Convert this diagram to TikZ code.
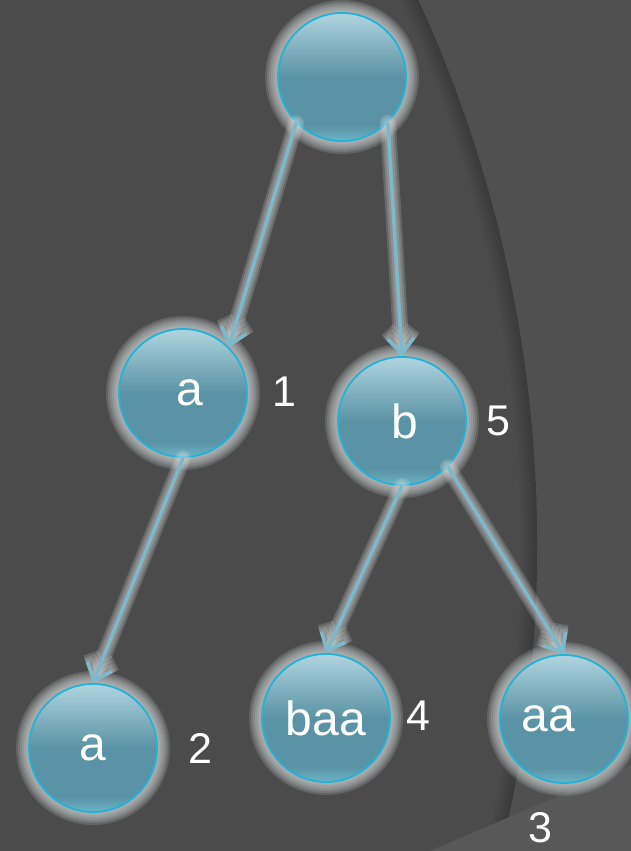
\documentclass[tikz,border=0pt]{standalone}
\usepackage{fontspec}
\setmainfont{Liberation Sans}
\usepackage{xcolor}
\usepackage{tikz}
\usetikzlibrary{arrows.meta,positioning}
\definecolor{slidebg}{RGB}{75,75,75}
\definecolor{slideright}{RGB}{80,80,80}
\definecolor{slidewedge}{RGB}{88,88,88}
\definecolor{nodetop}{RGB}{176,212,224}
\definecolor{nodemid}{RGB}{90,147,165}
\definecolor{nodebot}{RGB}{108,180,200}
\definecolor{nodeborder}{RGB}{34,179,214}
\definecolor{glowgray}{RGB}{212,220,222}
\definecolor{edgeblue}{RGB}{124,185,203}

% light cap on top, flat body, slightly lighter rim at the bottom
\pgfdeclareverticalshading{nodeshade}{100bp}{color(0bp)=(nodebot); color(25bp)=(nodebot); color(31bp)=(nodemid); color(50bp)=(nodemid); color(75bp)=(nodetop); color(100bp)=(nodetop)}

\tikzset{
  halo/.style={preaction={draw=glowgray, line width=#1, draw opacity=0.17, line cap=round}},
  treenode/.style={circle, minimum size=128pt, inner sep=0pt,
    draw=nodeborder, line width=1.8pt, shading=nodeshade, text=white,
    font=\fontsize{48pt}{56pt}\selectfont,
    halo=26pt, halo=22pt, halo=18pt, halo=14pt, halo=10pt, halo=6pt},
  edgehalo/.style={preaction={draw=glowgray, line width=#1, draw opacity=0.2, line cap=round,
      -{Straight Barb[length=15pt,width=26pt]}}},
  treeedge/.style={draw=edgeblue, line width=3.5pt,
    -{Straight Barb[length=15pt,width=26pt]},
    edgehalo=16pt, edgehalo=12pt, edgehalo=8pt},
  numlabel/.style={text=white, inner sep=0pt, font=\fontsize{43pt}{50pt}\selectfont}
}

\begin{document}
\begin{tikzpicture}[x=1pt, y=-1pt]
  \useasboundingbox (0,0) rectangle (631,851);

  % slide background with the big arc
  \fill[slidebg] (0,0) rectangle (631,851);
  \begin{scope}
    \clip (0,0) rectangle (631,851);
    \fill[slideright, even odd rule] (0,0) rectangle (631,851) (-770,545) circle (1307pt);
    \clip (-770,545) circle (1307pt);
    \foreach \w in {32,28,...,4}
      \draw[black, draw opacity=0.025, line width=\w pt] (-770,545) circle (1307pt);
  \end{scope}
  \fill[slidewedge] (430,851) -- (631,765) -- (631,851) -- cycle;

  % tree
  \node[treenode] (root) at (342,77) {};
  \node[treenode] (a1) at (183,393) {\hspace*{14pt}a};
  \node[treenode] (b) at (402,421) {\hspace*{6pt}b};
  \node[treenode] (a2) at (93,748) {a};
  \node[treenode] (baa) at (326,718) {baa};
  \node[treenode] (aa) at (564,719) {aa\hspace*{32pt}};

  \draw[treeedge] (root.south west) -- (a1.north east);
  \draw[treeedge] (root.south east) -- (b.north);
  \draw[treeedge] (a1.south) -- (a2.north);
  \draw[treeedge] (b.south) -- (baa.north);
  \draw[treeedge] (b.south east) -- (aa.north);

  % counts
  \node[numlabel] (n1) at (284,392) {1};
  \node[numlabel] (n5) at (498,421) {5};
  \node[numlabel] (n2) at (200,748) {2};
  \node[numlabel] (n4) at (418,716) {4};
  \node[numlabel] (n3) at (540,828) {3};
\end{tikzpicture}
\end{document}
